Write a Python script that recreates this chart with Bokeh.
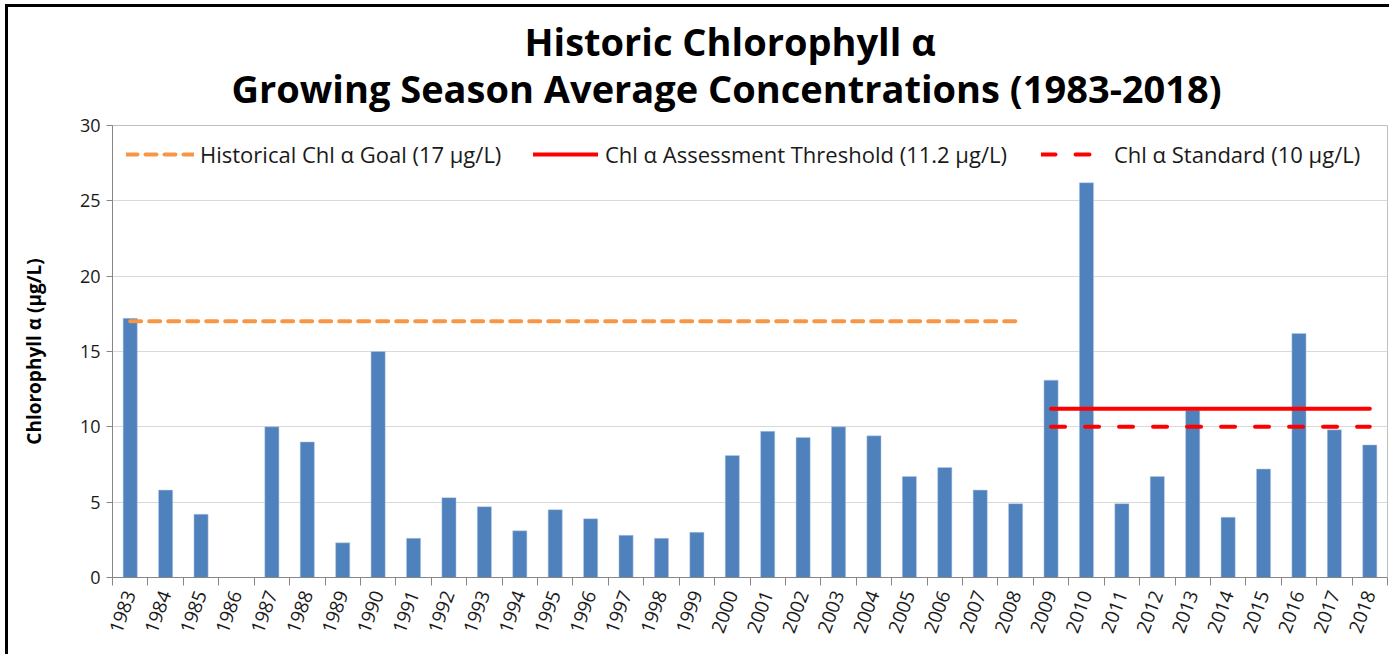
from bokeh.plotting import figure
from bokeh.models import Range1d, FixedTicker, Legend, LegendItem, Title
from bokeh.embed import file_html
from bokeh.resources import INLINE

# ---------------- data ----------------
years = ["1983", "1984", "1985", "1986", "1987", "1988", "1989", "1990", "1991",
         "1992", "1993", "1994", "1995", "1996", "1997", "1998", "1999", "2000",
         "2001", "2002", "2003", "2004", "2005", "2006", "2007", "2008", "2009",
         "2010", "2011", "2012", "2013", "2014", "2015", "2016", "2017", "2018"]
chl = [17.2, 5.8, 4.2, 0.0, 10.0, 9.0, 2.3, 15.0, 2.6,
       5.3, 4.7, 3.1, 4.5, 3.9, 2.8, 2.6, 3.0, 8.1,
       9.7, 9.3, 10.0, 9.4, 6.7, 7.3, 5.8, 4.9, 13.1,
       26.2, 4.9, 6.7, 11.1, 4.0, 7.2, 16.2, 9.8, 8.8]

goal_value = 17.0
goal_span = ["1983", "2008"]
threshold_value = 11.2
standard_value = 10.0
criteria_span = ["2009", "2018"]

y_ticks = [0, 5, 10, 15, 20, 25, 30]

title_line1 = "Historic Chlorophyll α"
title_line2 = "Growing Season Average Concentrations (1983-2018)"
y_label = "Chlorophyll α (μg/L)"
goal_label = "Historical Chl α Goal (17 μg/L)"
threshold_label = "Chl α Assessment Threshold (11.2 μg/L)"
standard_label = "Chl α Standard (10 μg/L)"

FONT = "Open Sans"

# ---------------- figure ----------------
idx = list(range(len(years)))
p = figure(width=1384, height=650, output_backend="svg", toolbar_location=None,
           x_range=Range1d(-0.5, len(years) - 0.5), y_range=Range1d(0, 30),
           min_border_left=104, min_border_right=5, min_border_top=118,
           min_border_bottom=80, title=None)
p.styles = {"margin-left": "5px", "margin-top": "4px",
            "border-left": "3px solid black", "border-top": "3px solid black"}
p.outline_line_color = "#BFBFBF"
p.background_fill_color = "white"
p.border_fill_color = "white"

# bars
p.vbar(x=idx, top=chl, width=0.4, fill_color="#4F81BD", line_color="#B9CDE5",
       line_width=0.5)

# reference lines
gx = [years.index(goal_span[0]), years.index(goal_span[1])]
cx = [years.index(criteria_span[0]), years.index(criteria_span[1])]
r_goal = p.line(gx, [goal_value, goal_value], line_color="#F79646", line_width=4,
                line_dash="11 8", line_cap="round")
r_thr = p.line(cx, [threshold_value, threshold_value], line_color="#FF0000",
               line_width=4, line_cap="round")
r_std = p.line(cx, [standard_value, standard_value], line_color="#FF0000",
               line_width=4, line_dash="14 20", line_cap="round")

# axes
xa = p.xaxis[0]
xa.ticker = FixedTicker(ticks=idx, minor_ticks=[i - 0.5 for i in range(len(years) + 1)])
xa.major_label_overrides = {i: y for i, y in enumerate(years)}
xa.major_label_orientation = 1.22
xa.major_tick_line_color = None
xa.minor_tick_line_color = "#868686"
xa.minor_tick_in = 0
xa.minor_tick_out = 8
xa.axis_line_color = "#868686"
xa.major_label_text_font = FONT
xa.major_label_text_font_size = "19px"
xa.major_label_text_color = "#1a1a1a"
xa.major_label_standoff = 6

ya = p.yaxis[0]
ya.ticker = FixedTicker(ticks=y_ticks, minor_ticks=[])
ya.major_tick_in = 0
ya.major_tick_out = 6
ya.major_tick_line_color = "#868686"
ya.axis_line_color = "#868686"
ya.major_label_text_font = FONT
ya.major_label_text_font_size = "18px"
ya.major_label_text_color = "#1a1a1a"
ya.major_label_standoff = 6
ya.axis_label = y_label
ya.axis_label_text_font = FONT
ya.axis_label_text_font_size = "19px"
ya.axis_label_text_font_style = "bold"
ya.axis_label_text_color = "black"
ya.axis_label_standoff = 30

p.xgrid.grid_line_color = None
p.ygrid.grid_line_color = "#D9D9D9"

# two-line title (first added sits closest to the frame)
p.add_layout(Title(text=title_line2, align="left", offset=119, text_font=FONT,
                   text_font_size="38px", text_font_style="bold",
                   text_color="black", standoff=24), "above")
p.add_layout(Title(text=title_line1, align="left", offset=412, text_font=FONT,
                   text_font_size="38px", text_font_style="bold",
                   text_color="black", standoff=-38), "above")

# legends
def add_legend(renderer, label, loc, glyph_w, standoff):
    lg = Legend(items=[LegendItem(label=label, renderers=[renderer])],
                location=loc, orientation="horizontal", padding=0, margin=0,
                spacing=0, border_line_color=None, background_fill_alpha=0,
                glyph_width=glyph_w, glyph_height=24, label_height=24,
                label_standoff=standoff, label_text_font=FONT,
                label_text_font_size="22px", label_text_color="#1a1a1a")
    p.add_layout(lg, "center")

add_legend(r_goal, goal_label, (14, 408), 68, 6)
add_legend(r_thr, threshold_label, (421, 408), 65, 7)
add_legend(r_std, standard_label, (929, 408), 54, 19)

open("out.html", "w").write(file_html(p, INLINE))
